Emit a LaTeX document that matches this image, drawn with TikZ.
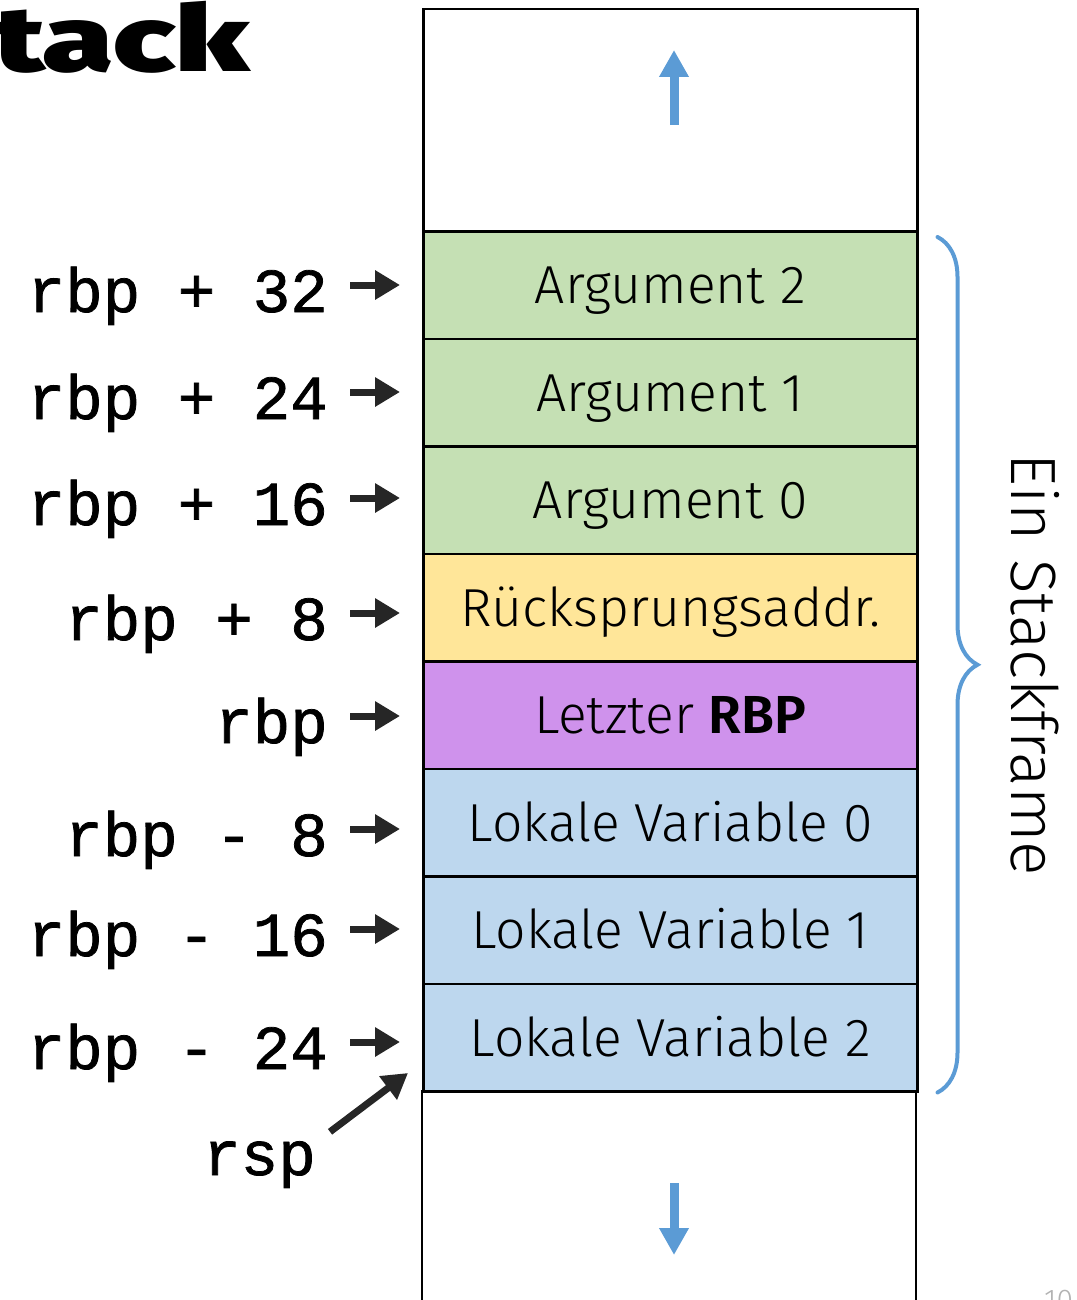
\documentclass[tikz,border=0pt]{standalone}
\usepackage{fontspec}
\setmainfont{Fira Sans}[UprightFont=* Light, BoldFont=* SemiBold]
\newfontfamily\titlefont{Fira Sans}[UprightFont=* Black]
\setmonofont{Liberation Mono}[FakeBold=1.2]
\usetikzlibrary{arrows.meta,decorations.pathreplacing}

\definecolor{argcol}{RGB}{197,224,180}
\definecolor{retcol}{RGB}{255,230,153}
\definecolor{rbpcol}{RGB}{207,146,236}
\definecolor{loccol}{RGB}{189,215,238}
\definecolor{flowcol}{RGB}{91,155,213}
\definecolor{ptrcol}{RGB}{38,38,38}

\tikzset{
	slot/.style={draw, line width=2.5pt, minimum width=494pt, minimum height=107.5pt,
		anchor=north west, inner sep=0pt, text height=37pt, text depth=0pt,
		font=\fontsize{53.5}{60}\selectfont},
	reglabel/.style={anchor=east, inner sep=0pt, text height=54pt, text depth=0pt,
		font=\ttfamily\fontsize{62.5}{70}\selectfont},
	ptr/.style={ptrcol, line width=7pt, -{Triangle[length=25pt,width=28pt]}},
	flow/.style={flowcol, line width=9pt, -{Triangle[length=27pt,width=28pt]}},
}

\begin{document}
\begin{tikzpicture}[x=1pt,y=-1pt]
		\useasboundingbox (0,0) rectangle (1076,1300);
		\clip (0,0) rectangle (1076,1300);

		% Title, cut by the slide edge
		\node[anchor=base east, inner sep=0pt, xscale=1.4, font=\titlefont\fontsize{92}{92}\selectfont] (title) at (250,72) {Stack};

		% Free space above and below
		\node[slot, minimum height=222pt] (spare) at (422,8) {};
		\draw[line width=2.5pt] (422,1090) -- (422,1320);
		\draw[line width=2.5pt] (916,1090) -- (916,1320);
		\draw[flow] (674,125) -- (674,50);
		\draw[flow] (674,1183) -- (674,1255);

		% Stack slots
		\foreach \name/\col/\txt [count=\i from 0] in {arg2/argcol/Argument 2, arg1/argcol/Argument 1,
				arg0/argcol/Argument 0, ret/retcol/Rücksprungsaddr., oldrbp/rbpcol/{Letzter \textbf{RBP}},
				loc0/loccol/Lokale Variable 0, loc1/loccol/Lokale Variable 1, loc2/loccol/Lokale Variable 2}
			\node[slot, fill=\col] (\name) at (422,230+107.5*\i) {\txt};

		% Offsets from rbp
		\foreach \name/\y/\txt in {l32/285/rbp + 32, l24/392/rbp + 24, l16/498/rbp + 16, l8/613/rbp + 8,
				l0/716/rbp, m8/829/rbp - 8, m16/929/rbp - 16, m24/1042/rbp - 24} {
			\node[reglabel] (\name) at (328,\y) {\txt};
			\draw[ptr] ([xshift=22]\name.east) -- ([xshift=72]\name.east);
		}

		% Stack pointer
		\node[reglabel, anchor=base east] (rsp) at (316,1175) {rsp};
		\coordinate (rsptip) at (408,1073);
		\draw[ptr] ([shift={(14,11)}]rsp.north east) -- (rsptip);

		% Frame brace
		\draw[flowcol, line width=4pt, line cap=round, decorate, decoration={brace, amplitude=40pt}]
			([xshift=19,yshift=-7]arg2.north east) -- ([xshift=19]loc2.south east);
		\node[rotate=-90, inner sep=0pt, text height=44pt, text depth=0pt, font=\fontsize{64}{70}\selectfont] (frame) at (1033,665) {Ein Stackframe};

		% Page number
		\node[anchor=north west, inner sep=0pt, text=gray!60, font=\fontsize{30}{30}\selectfont] (pageno) at (1044,1290) {10};
	\end{tikzpicture}
\end{document}
